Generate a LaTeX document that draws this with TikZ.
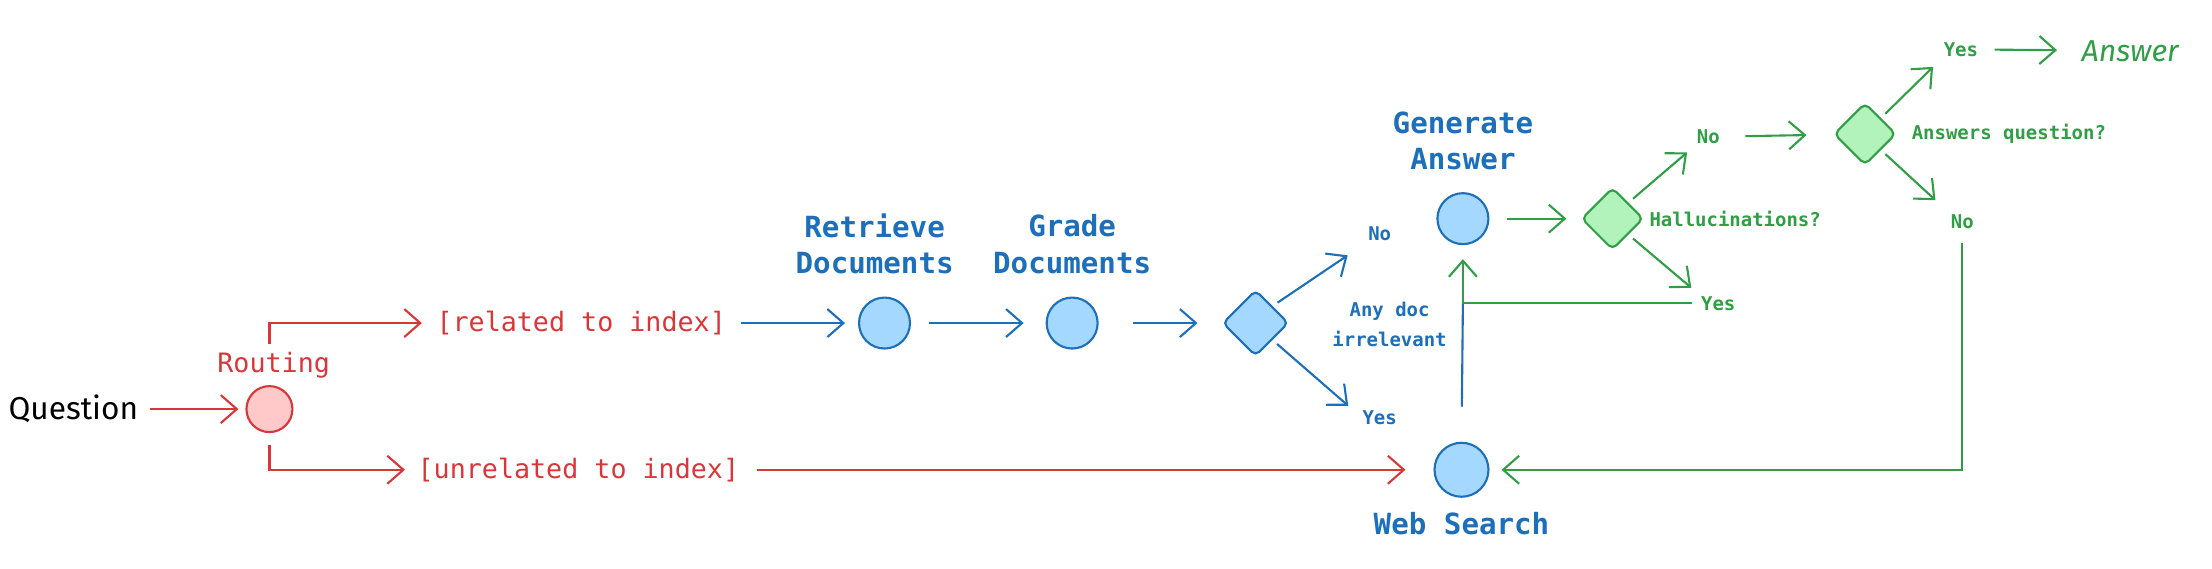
\documentclass[tikz,border=0pt]{standalone}
\usepackage{fontspec}
\setmonofont{DejaVu Sans Mono}
\newfontfamily\handfont{Fira Sans}
\usetikzlibrary{shapes.geometric,arrows.meta,positioning}

\definecolor{exred}{HTML}{D9363A}
\definecolor{exredfill}{HTML}{FFC9C9}
\definecolor{exblue}{HTML}{1C6FB8}
\definecolor{exbluefill}{HTML}{A5D8FF}
\definecolor{exgreen}{HTML}{2F9E44}
\definecolor{exgreenfill}{HTML}{B2F2BB}

\tikzset{
  link/.style={line width=0.6pt, -{Straight Barb[length=1.6mm,width=2.8mm]}},
  dot/.style={circle, line width=0.6pt, minimum size=0.51cm, inner sep=0pt},
  choice/.style={diamond, rounded corners=1.5pt, line width=0.6pt, minimum width=0.62cm, minimum height=0.62cm, inner sep=0pt},
  redlbl/.style={text=exred, font=\ttfamily\fontsize{7.6}{9}\selectfont, inner sep=0pt},
  title/.style={text=exblue, font=\ttfamily\bfseries\fontsize{8.3}{10.4}\selectfont, align=center, inner sep=0pt},
  small/.style={font=\ttfamily\bfseries\fontsize{5.4}{8.8}\selectfont, align=center, inner sep=0pt},
  hand/.style={font=\handfont\fontsize{9}{11}\selectfont, inner sep=0pt}
}

\begin{document}
\begin{tikzpicture}[x=0.014107cm, y=-0.014107cm]
\useasboundingbox (0,0) rectangle (1568,403);

% routing
\node[hand] (question) at (52,290) {Question};
\node[dot, draw=exred, fill=exredfill, minimum size=0.46cm] (rout) at (191,290) {};
\node[redlbl] (routlab) at (194,259) {Routing};
\node[redlbl] (rel) at (412,229) {[related to index]};
\node[redlbl] (unrel) at (410,333) {[unrelated to index]};

\draw[link, exred, shorten <=1.1mm, shorten >=0.7mm] (question) -- (rout);
\draw[link, exred, shorten <=0.8mm, shorten >=1.4mm] (routlab.north -| rout) |- (rel.west);
\draw[link, exred, shorten <=1.2mm, shorten >=1.2mm] (rout.south) |- (unrel.west);

% retrieval and grading
\node[dot, draw=exblue, fill=exbluefill] (ret) at (627,229) {};
\node[title] (retlab) at (620,173) {Retrieve\\Documents};
\node[dot, draw=exblue, fill=exbluefill] (grade) at (760,229) {};
\node[title] (gradelab) at (760,173) {Grade\\Documents};
\node[choice, draw=exblue, fill=exbluefill, minimum width=0.66cm, minimum height=0.66cm] (dec1) at (890,229) {};
\node[small, text=exblue] (anydoc) at (985,230) {Any doc\\irrelevant};
\node[small, text=exblue] (no1) at (978,166) {No};
\node[small, text=exblue] (yes1) at (978,296) {Yes};

\draw[link, exblue, shorten <=1.4mm, shorten >=1.3mm] (rel) -- (ret);
\draw[link, exblue, shorten <=1.8mm, shorten >=2.2mm] (ret) -- (grade);
\draw[link, exblue, shorten <=3.4mm, shorten >=2.4mm] (grade) -- (dec1);
\draw[link, exblue, shorten <=0.6mm, shorten >=2.4mm] (dec1.north east) -- (no1.south west);
\draw[link, exblue, shorten <=0.6mm, shorten >=1.8mm] (dec1.south east) -- (yes1.west);

% web search
\node[dot, draw=exblue, fill=exbluefill, minimum size=0.54cm] (web) at (1036,333) {};
\node[title] (weblab) at (1036,371) {Web Search};
\draw[link, exred, shorten <=1.7mm, shorten >=2.8mm] (unrel) -- (web);

% generation
\node[dot, draw=exblue, fill=exbluefill] (gen) at (1037,155) {};
\node[title] (genlab) at (1037,100) {Generate\\Answer};
\node[choice, draw=exgreen, fill=exgreenfill] (hal) at (1143,155) {};
\node[small, text=exgreen] (halq) at (1230,155) {Hallucinations?};
\node[small, text=exgreen] (no2) at (1211,97) {No};
\node[small, text=exgreen] (yes2) at (1218,215) {Yes};
\coordinate (jn) at (gen |- yes2);

\draw[exblue, line width=0.6pt, shorten <=3.5mm] (web.north) -- (jn);
\draw[link, exgreen, shorten <=0.8mm] (yes2.west) -- (jn) -- ([yshift=-1.4mm]gen.south);
\draw[link, exgreen, shorten <=1.8mm, shorten >=1.4mm] (gen) -- (hal);
\draw[link, exgreen, shorten <=0.6mm, shorten >=1.2mm] (hal.north east) -- (no2.south west);
\draw[link, exgreen, shorten <=0.6mm, shorten >=1.2mm] (hal.south east) -- (yes2.north west);

% answer check
\node[choice, draw=exgreen, fill=exgreenfill] (ansd) at (1322,95) {};
\node[small, text=exgreen] (ansq) at (1424,95) {Answers question?};
\node[small, text=exgreen] (yes3) at (1390,35) {Yes};
\node[small, text=exgreen] (no3) at (1391,157) {No};
\node[hand, text=exgreen, font=\handfont\itshape\fontsize{8.6}{10}\selectfont] (answer) at (1510,36) {Answer};

\draw[link, exgreen, shorten <=2.5mm, shorten >=2.7mm] (no2) -- (ansd);
\draw[link, exgreen, shorten <=0.6mm, shorten >=1.4mm] (ansd.north east) -- (yes3.south west);
\draw[link, exgreen, shorten <=0.6mm, shorten >=2mm] (ansd.south east) -- (no3.north west);
\draw[link, exgreen, shorten <=1.6mm, shorten >=2.4mm] (yes3) -- (answer);
\draw[link, exgreen, shorten <=1.4mm, shorten >=1.2mm] (no3.south) |- (web.east);

\end{tikzpicture}
\end{document}
